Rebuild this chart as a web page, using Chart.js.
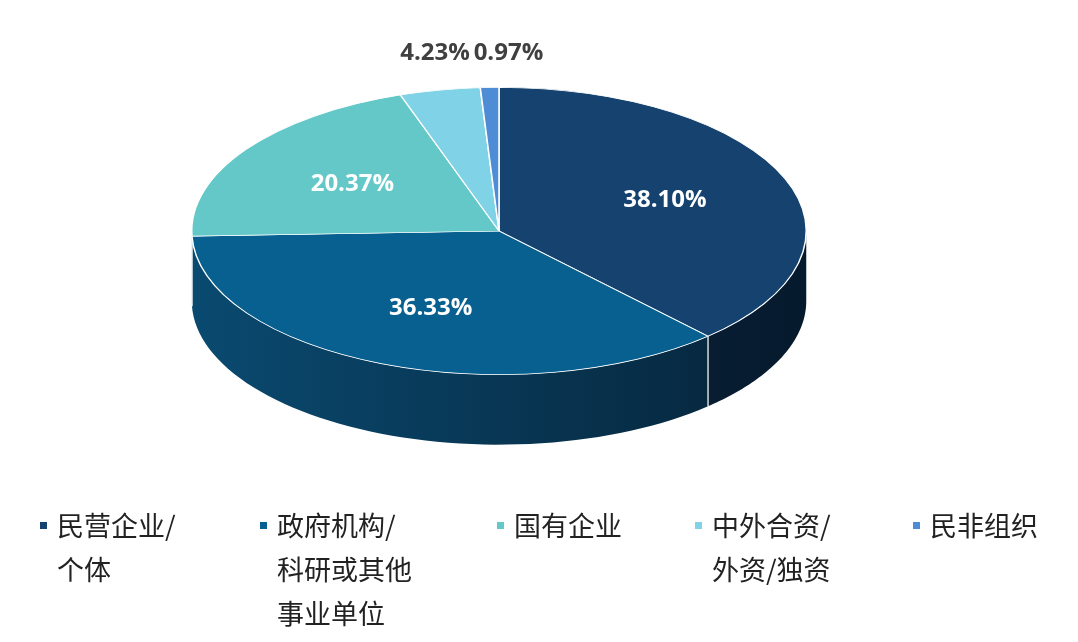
<!DOCTYPE html>
<html><head><meta charset="utf-8">
<script src="https://cdn.jsdelivr.net/npm/chart.js@4"></script>
<style>
body{margin:0;background:#fff;width:1078px;height:642px;overflow:hidden;position:relative;font-family:"Noto Sans CJK SC",sans-serif}
#c{position:absolute;left:0;top:0}
.lg{position:absolute;top:503px;font-size:27px;line-height:44px;color:#222}
.lg i{position:absolute;left:-17px;top:19px;width:7px;height:7px}
</style></head><body>
<canvas id="c" width="1078" height="642"></canvas>
<div id="legend"></div>
<script>
const categories=["民营企业/个体","政府机构/科研或其他事业单位","国有企业","中外合资/外资/独资","民非组织"];
const legendLines=[["民营企业/","个体"],["政府机构/","科研或其他","事业单位"],["国有企业"],["中外合资/","外资/独资"],["民非组织"]];
const values=[38.10,36.33,20.37,4.23,0.97];
const colors=["#15426f","#07608f","#64c8c8","#80d2e6","#4e8dd5"];
const sideColors=[["#0d2c4c","#061a2d"],["#0a4a70","#062338"],["#3f9a9a","#2a7070"],["#5aa9bc","#3a8090"],["#3a6aa8","#264a78"]];
const legendX=[57,277,514,712,930];

const lg=document.getElementById('legend');
legendLines.forEach((l,i)=>{const d=document.createElement('div');d.className='lg';d.style.left=legendX[i]+'px';
d.innerHTML='<i style="background:'+colors[i]+'"></i>'+l.join('<br>');lg.appendChild(d);});

const CX=499,CY=231,K=144/308,DEPTH=70;
const pie3d={id:'pie3d',
beforeDatasetsDraw(chart){
  const ctx=chart.ctx;const arcs=chart.getDatasetMeta(0).data;
  const a0=arcs[0];const r=a0.outerRadius;
  const P=(t,d)=>[CX+r*Math.cos(t),CY+r*K*Math.sin(t)+d];
  arcs.forEach((a,i)=>{
    let s=a.startAngle,e=a.endAngle;
    // normalize into [0,2pi)
    const segs=[];
    for(let off=-2*Math.PI;off<=2*Math.PI;off+=2*Math.PI){
      const ss=Math.max(s+off,0),ee=Math.min(e+off,Math.PI);
      if(ee>ss)segs.push([ss,ee]);
    }
    segs.forEach(([ss,ee])=>{
      ctx.save();
      const g=ctx.createLinearGradient(CX-r,0,CX+r,0);
      g.addColorStop(0,sideColors[i][0]);g.addColorStop(1,sideColors[i][1]);
      ctx.fillStyle=g;ctx.beginPath();
      const n=60;
      for(let j=0;j<=n;j++){const t=ss+(ee-ss)*j/n;const p=P(t,0);j?ctx.lineTo(p[0],p[1]):ctx.moveTo(p[0],p[1]);}
      for(let j=n;j>=0;j--){const t=ss+(ee-ss)*j/n;const p=P(t,DEPTH);ctx.lineTo(p[0],p[1]);}
      ctx.closePath();ctx.fill();
      ctx.strokeStyle='rgba(255,255,255,0.8)';ctx.lineWidth=1.2;
      [ss,ee].forEach(t=>{if(t>0.01&&t<Math.PI-0.01){const p=P(t,0);ctx.beginPath();ctx.moveTo(p[0],p[1]);ctx.lineTo(p[0],p[1]+DEPTH);ctx.stroke();}});
      ctx.restore();
    });
  });
  ctx.save();
  ctx.translate(CX,CY);ctx.scale(1,K);ctx.translate(-a0.x,-a0.y);
},
afterDatasetsDraw(chart){
  const ctx=chart.ctx;ctx.restore();
  const arcs=chart.getDatasetMeta(0).data;
  ctx.save();ctx.font='bold 24px "Open Sans"';ctx.textBaseline='middle';
  arcs.forEach((a,i)=>{
    const m=(a.startAngle+a.endAngle)/2,r=a.outerRadius;
    const txt=values[i].toFixed(2)+'%';
    if(values[i]>10){
      ctx.fillStyle='#fff';ctx.textAlign='center';
      ctx.fillText(txt,CX+0.58*r*Math.cos(m),CY+0.58*r*K*Math.sin(m));
    }else{
      ctx.fillStyle='#404040';
      const x=CX+r*Math.cos(m);
      ctx.textAlign=i%2?'right':'left';
      ctx.fillText(txt,i%2?x+30:x-16,CY-r*K-34);
    }
  });
  ctx.restore();
}};

new Chart(document.getElementById('c'),{type:'pie',
data:{labels:categories,datasets:[{data:values,backgroundColor:colors,borderColor:'#fff',borderWidth:1.5}]},
options:{responsive:false,animation:false,events:[],
layout:{padding:{left:191,right:271,top:0,bottom:0}},
plugins:{legend:{display:false},tooltip:{enabled:false}}},
plugins:[pie3d]});
</script></body></html>
